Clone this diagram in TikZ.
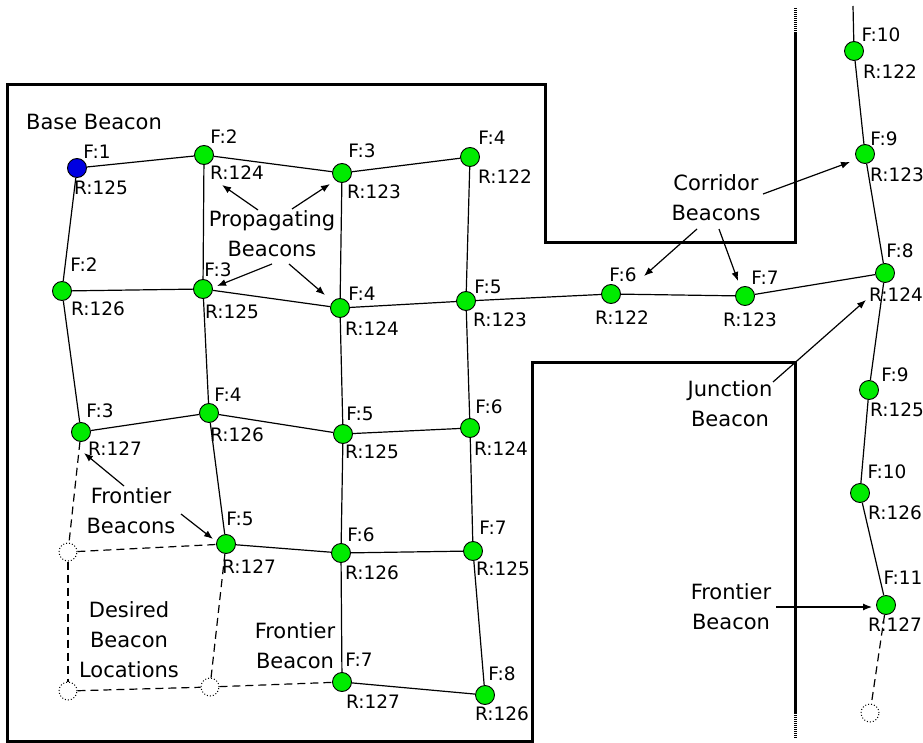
\documentclass[tikz,border=0pt]{standalone}
\usepackage{fontspec}
\setmainfont{DejaVu Sans}
\usepackage{tikz}
\usetikzlibrary{arrows.meta,positioning}
\definecolor{beaconGreen}{RGB}{0,235,0}
\definecolor{baseBlue}{RGB}{0,0,225}
\tikzset{
  beacon/.style={draw, circle, fill=beaconGreen, minimum size=19pt, inner sep=0pt, line width=0.9pt},
  base/.style={beacon, fill=baseBlue},
  ghost/.style={draw, circle, dotted, minimum size=18pt, inner sep=0pt, line width=1pt},
  tag/.style={font=\fontsize{18.5}{20}\selectfont, inner sep=0pt},
  caption/.style={font=\fontsize{21}{30}\selectfont, align=center, inner sep=0pt},
  link/.style={line width=1.2pt},
  wish/.style={line width=1.2pt, dash pattern=on 8pt off 5pt},
  wall/.style={line width=3pt},
  wallend/.style={line width=3pt, dash pattern=on 1pt off 1pt},
  pointer/.style={-{Latex[length=9pt, width=7pt]}, line width=1.2pt}
}

\begin{document}
\begin{tikzpicture}[x=1pt, y=-1pt]
  \useasboundingbox (0,0) rectangle (923,743);

  % walls
  \draw[wall] (795,32) -- (795,243) -- (545,243) -- (545,85) -- (7,85) -- (7,741)
    -- (532,741) -- (532,362) -- (795,362) -- (795,713);
  \draw[wallend] (795,8) -- (795,32);
  \draw[wallend] (795,713) -- (795,738);

  % room beacons
  \node[base] (a1) at (77,168) {};
  \node[tag] (a1f) at (97,152) {F:1};
  \node[tag] (a1r) at (101,188) {R:125};
  \node[beacon] (a2) at (204,155) {};
  \node[tag] (a2f) at (224,137) {F:2};
  \node[tag] (a2r) at (237,173) {R:124};
  \node[beacon] (a3) at (342,173) {};
  \node[tag] (a3f) at (362,151) {F:3};
  \node[tag] (a3r) at (374,192) {R:123};
  \node[beacon] (a4) at (470,157) {};
  \node[tag] (a4f) at (492,138) {F:4};
  \node[tag] (a4r) at (505,177) {R:122};

  \node[beacon] (b1) at (62,291) {};
  \node[tag] (b1f) at (84,265) {F:2};
  \node[tag] (b1r) at (98,309) {R:126};
  \node[beacon] (b2) at (203,289) {};
  \node[tag] (b2f) at (218,270) {F:3};
  \node[tag] (b2r) at (232,312) {R:125};
  \node[beacon] (b3) at (340,308) {};
  \node[tag] (b3f) at (362,294) {F:4};
  \node[tag] (b3r) at (372,329) {R:124};
  \node[beacon] (b4) at (466,301) {};
  \node[tag] (b4f) at (488,287) {F:5};
  \node[tag] (b4r) at (500,320) {R:123};

  \node[beacon] (c1) at (81,432) {};
  \node[tag] (c1f) at (100,411) {F:3};
  \node[tag] (c1r) at (115,449) {R:127};
  \node[beacon] (c2) at (209,413) {};
  \node[tag] (c2f) at (228,395) {F:4};
  \node[tag] (c2r) at (237,435) {R:126};
  \node[beacon] (c3) at (343,434) {};
  \node[tag] (c3f) at (360,414) {F:5};
  \node[tag] (c3r) at (372,452) {R:125};
  \node[beacon] (c4) at (470,428) {};
  \node[tag] (c4f) at (489,407) {F:6};
  \node[tag] (c4r) at (501,449) {R:124};

  \node[beacon] (d1) at (226,544) {};
  \node[tag] (d1f) at (240,519) {F:5};
  \node[tag] (d1r) at (249,567) {R:127};
  \node[beacon] (d2) at (341,553) {};
  \node[tag] (d2f) at (361,535) {F:6};
  \node[tag] (d2r) at (372,573) {R:126};
  \node[beacon] (d3) at (473,551) {};
  \node[tag] (d3f) at (493,528) {F:7};
  \node[tag] (d3r) at (503,569) {R:125};

  \node[beacon] (e1) at (342,682) {};
  \node[tag] (e1f) at (359,660) {F:7};
  \node[tag] (e1r) at (373,702) {R:127};
  \node[beacon] (e2) at (485,695) {};
  \node[tag] (e2f) at (502,674) {F:8};
  \node[tag] (e2r) at (502,714) {R:126};

  \node[ghost] (g1) at (68,552) {};
  \node[ghost] (g2) at (68,691) {};
  \node[ghost] (g3) at (210,687) {};

  % corridor and far corridor
  \node[beacon] (k1) at (611,294) {};
  \node[tag] (k1f) at (623,275) {F:6};
  \node[tag] (k1r) at (622,318) {R:122};
  \node[beacon] (k2) at (745,296) {};
  \node[tag] (k2f) at (765,278) {F:7};
  \node[tag] (k2r) at (750,320) {R:123};
  \node[beacon] (j) at (885,273) {};
  \node[tag] (jf) at (900,251) {F:8};
  \node[tag] (jr) at (896,295) {R:124};

  \node[beacon] (u1) at (865,154) {};
  \node[tag] (u1f) at (884,139) {F:9};
  \node[tag] (u1r) at (897,175) {R:123};
  \node[beacon] (u2) at (854,51) {};
  \node[tag] (u2f) at (881,35) {F:10};
  \node[tag] (u2r) at (890,72) {R:122};
  \coordinate (utop) at (853,6);

  \node[beacon] (w1) at (869,390) {};
  \node[tag] (w1f) at (895,375) {F:9};
  \node[tag] (w1r) at (897,410) {R:125};
  \node[beacon] (w2) at (860,493) {};
  \node[tag] (w2f) at (887,472) {F:10};
  \node[tag] (w2r) at (895,513) {R:126};
  \node[beacon] (w3) at (886,605) {};
  \node[tag] (w3f) at (903,578) {F:11};
  \node[tag] (w3r) at (895,625) {R:127};
  \node[ghost] (g4) at (870,713) {};

  % links
  \draw[link] (a1) -- (a2);
  \draw[link] (a2) -- (a3);
  \draw[link] (a3) -- (a4);
  \draw[link] (a1) -- (b1);
  \draw[link] (a2) -- (b2);
  \draw[link] (a3) -- (b3);
  \draw[link] (a4) -- (b4);
  \draw[link] (b1) -- (b2);
  \draw[link] (b2) -- (b3);
  \draw[link] (b3) -- (b4);
  \draw[link] (b1) -- (c1);
  \draw[link] (b2) -- (c2);
  \draw[link] (b3) -- (c3);
  \draw[link] (b4) -- (c4);
  \draw[link] (c1) -- (c2);
  \draw[link] (c2) -- (c3);
  \draw[link] (c3) -- (c4);
  \draw[link] (c2) -- (d1);
  \draw[link] (c3) -- (d2);
  \draw[link] (c4) -- (d3);
  \draw[link] (d1) -- (d2);
  \draw[link] (d2) -- (d3);
  \draw[link] (d2) -- (e1);
  \draw[link] (d3) -- (e2);
  \draw[link] (e1) -- (e2);
  \draw[link] (b4) -- (k1);
  \draw[link] (k1) -- (k2);
  \draw[link] (k2) -- (j);
  \draw[link] (j) -- (u1);
  \draw[link] (u1) -- (u2);
  \draw[link] (u2) -- (utop);
  \draw[link] (j) -- (w1);
  \draw[link] (w1) -- (w2);
  \draw[link] (w2) -- (w3);

  \draw[wish] (c1) -- (g1);
  \draw[wish] (g1) -- (d1);
  \draw[wish] (g1) -- (g2);
  \draw[wish] (g2) -- (g3);
  \draw[wish] (g3) -- (d1);
  \draw[wish] (g3) -- (e1);
  \draw[wish] (w3) -- (g4);

  % captions
  \node[caption] (baseTxt) at (94,122) {Base Beacon};
  \node[caption] (propTxt) at (272,234) {Propagating\\Beacons};
  \node[caption] (corrTxt) at (716,198) {Corridor\\Beacons};
  \node[caption] (juncTxt) at (730,404) {Junction\\Beacon};
  \node[caption] (frontTxt) at (131,511) {Frontier\\Beacons};
  \node[caption] (wantTxt) at (129,640) {Desired\\Beacon\\Locations};
  \node[caption] (front1Txt) at (295,646) {Frontier\\Beacon};
  \node[caption] (front2Txt) at (731,607) {Frontier\\Beacon};

  \draw[pointer] (258,210) -- (222,185);
  \draw[pointer] (292,209) -- (330,184);
  \draw[pointer] (272,264) -- (217,286);
  \draw[pointer] (289,264) -- (325,295);
  \draw[pointer] (697,229) -- (644,276);
  \draw[pointer] (719,229) -- (738,281);
  \draw[pointer] (763,194) -- (850,162);
  \draw[pointer] (773,382) -- (866,300);
  \draw[pointer] (124,486) -- (84,453);
  \draw[pointer] (181,514) -- (213,539);
  \draw[pointer] (776,607) -- (872,607);
\end{tikzpicture}
\end{document}
